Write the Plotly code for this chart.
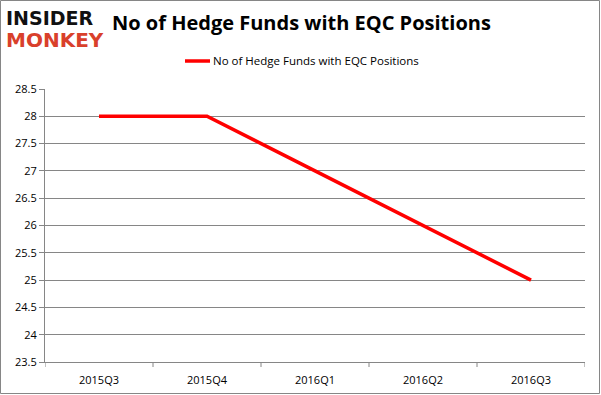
import plotly.graph_objects as go

categories = ["2015Q3", "2015Q4", "2016Q1", "2016Q2", "2016Q3"]
values = [28, 28, 27, 26, 25]
y_ticks = [23.5, 24, 24.5, 25, 25.5, 26, 26.5, 27, 27.5, 28, 28.5]
series_name = "No of Hedge Funds with EQC Positions"

W, H = 601, 395
L, R, T, B = 45, 585, 89, 362

fig = go.Figure()
fig.add_trace(go.Scatter(
    x=list(range(len(categories))), y=values, mode="lines",
    line=dict(color="#ff0000", width=3.5), name=series_name, showlegend=False,
    hoverinfo="skip",
))

font = "Open Sans, Noto Sans, sans-serif"
fig.update_layout(
    width=W, height=H, autosize=False,
    margin=dict(l=L, r=W - R, t=T, b=H - B, autoexpand=False),
    paper_bgcolor="white", plot_bgcolor="white",
    font=dict(family=font, size=11, color="#000"),
    xaxis=dict(
        range=[-0.5, len(categories) - 0.5],
        tickvals=list(range(len(categories))), ticktext=categories,
        ticks="", showgrid=False, zeroline=False, automargin=False,
        showline=True, linecolor="#868686", linewidth=1,
        tickfont=dict(size=11), fixedrange=True, ticklabelstandoff=8,
    ),
    yaxis=dict(
        range=[23.5, 28.5], tickvals=y_ticks, automargin=False,
        ticktext=[("%g" % v) for v in y_ticks], fixedrange=True,
        showgrid=True, gridcolor="#868686", gridwidth=1,
        showline=True, linecolor="#868686", linewidth=1,
        ticks="outside", ticklen=5, tickcolor="#868686",
        zeroline=False, tickfont=dict(size=11),
    ),
    showlegend=False,
)

# x tick marks at category boundaries
for i in range(len(categories) + 1):
    fig.add_shape(type="line", xref="x", yref="paper",
                  x0=i - 0.5, x1=i - 0.5, y0=0, y1=-5 / (B - T),
                  line=dict(color="#868686", width=1))

def px(x):
    return (x - L) / (R - L)

def py(y):
    return (B - y) / (B - T)

# title
fig.add_annotation(text="<b>No of Hedge Funds with EQC Positions</b>",
                   xref="paper", yref="paper", x=px(301), y=py(23),
                   xanchor="center", yanchor="middle", showarrow=False,
                   font=dict(family=font, size=20, color="#000"))

# legend
fig.add_shape(type="line", xref="paper", yref="paper",
              x0=px(185), x1=px(210), y0=py(61), y1=py(61),
              line=dict(color="#ff0000", width=3.5))
fig.add_annotation(text=series_name, xref="paper", yref="paper",
                   x=px(211), y=py(61), xanchor="left", yanchor="middle",
                   showarrow=False, font=dict(family=font, size=11.5, color="#000"))

# logo
fig.add_annotation(text="<b>INSIDER</b>", xref="paper", yref="paper",
                   x=px(4), y=py(18), xanchor="left", yanchor="middle",
                   showarrow=False, font=dict(family="DejaVu Sans", size=19, color="#111"))
fig.add_annotation(text="<b>MONKEY</b>", xref="paper", yref="paper",
                   x=px(4), y=py(40), xanchor="left", yanchor="middle",
                   showarrow=False, font=dict(family="DejaVu Sans", size=20, color="#d9402b"))

# outer border
fig.add_shape(type="rect", xref="paper", yref="paper",
              x0=px(0.5), x1=px(W - 1.5),
              y0=py(H - 1.5), y1=py(0.5),
              line=dict(color="#868686", width=1), fillcolor="rgba(0,0,0,0)")

fig.write_html("out.html", config={"displayModeBar": False, "staticPlot": True},
               post_script="document.body.style.margin='0px';document.body.style.overflow='hidden';")
